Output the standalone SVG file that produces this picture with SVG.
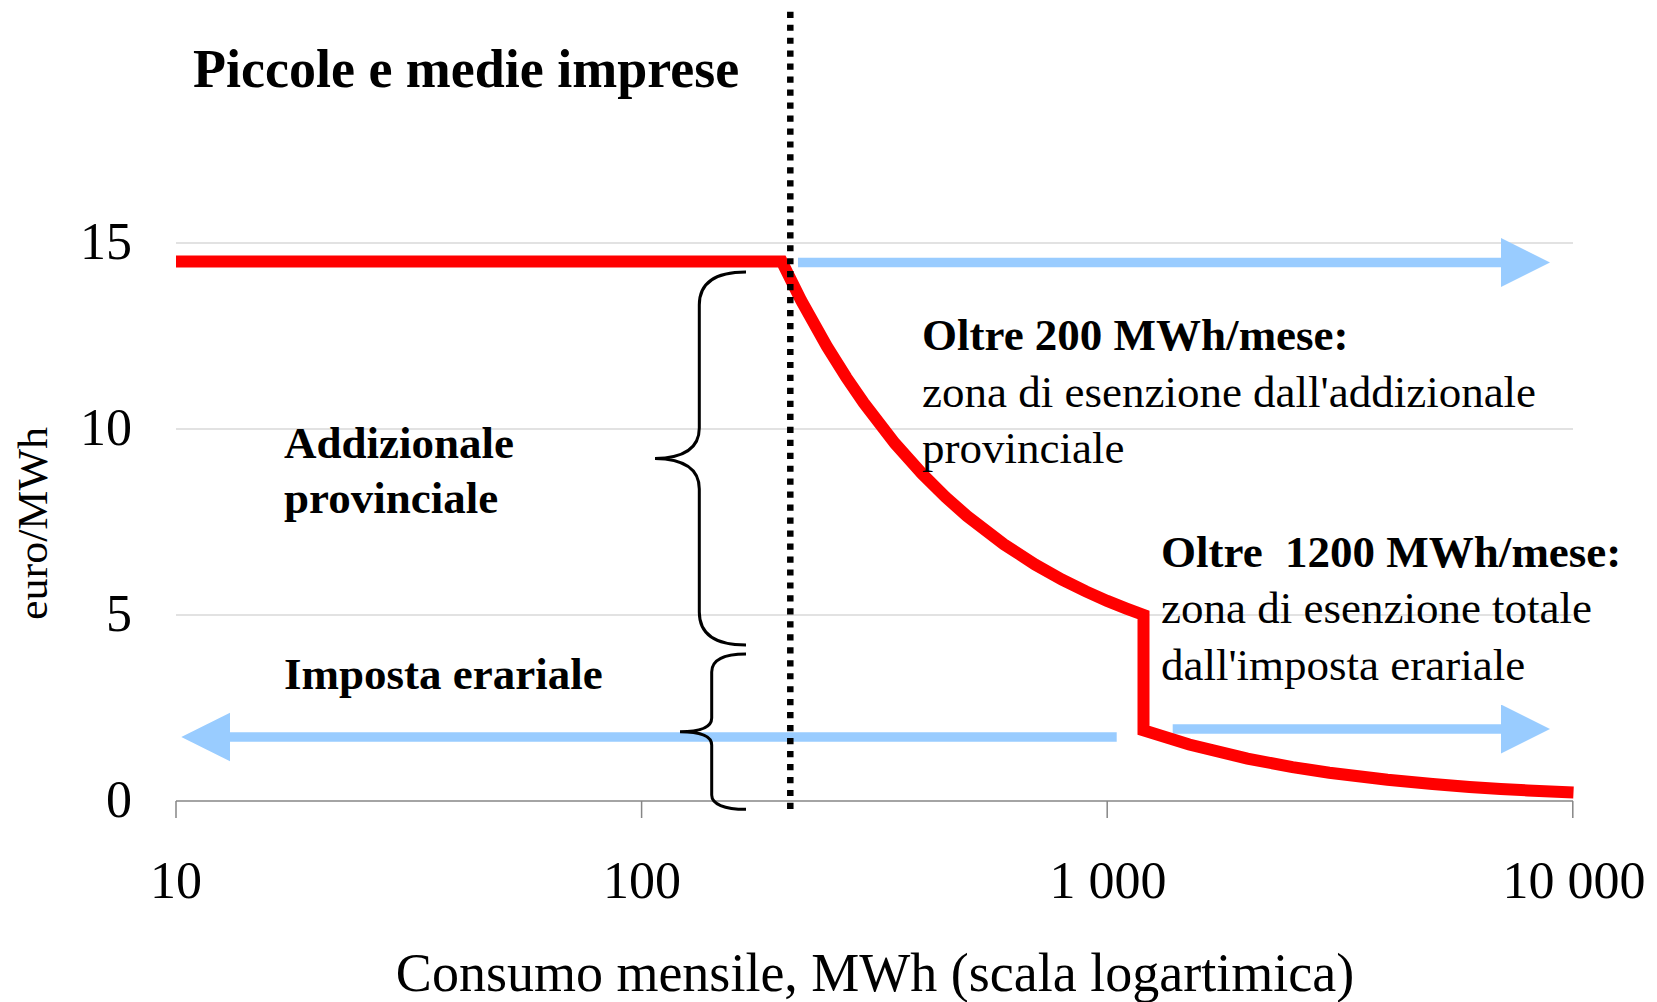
<svg xmlns="http://www.w3.org/2000/svg" width="1657" height="1002" viewBox="0 0 1657 1002">
<style>
.t{font-family:"Liberation Serif","Times New Roman",serif;fill:#000}
.b{font-weight:bold}
.grid{stroke:#d9d9d9;stroke-width:1.5;fill:none}
.axis{stroke:#868686;stroke-width:1.5;fill:none}
.blue{stroke:#99CCFF;stroke-width:9.5;fill:none}
.brace{stroke:#000;stroke-width:3;fill:none;stroke-linecap:butt}
</style>
<defs>
<marker id="ah" markerUnits="userSpaceOnUse" viewBox="0 0 50 50" markerWidth="50" markerHeight="50" refX="1" refY="24.5" orient="auto">
<path d="M0,0 L49,24.5 L0,49 z" fill="#99CCFF"/>
</marker>
</defs>
<rect width="1657" height="1002" fill="#fff"/>
<g id="grid">
<line class="grid" x1="176" y1="243" x2="1573" y2="243"/>
<line class="grid" x1="176" y1="429" x2="1573" y2="429"/>
<line class="grid" x1="176" y1="615" x2="1573" y2="615"/>
</g>
<g id="x-axis">
<line class="axis" x1="176" y1="801" x2="1573" y2="801"/>
<line class="axis" x1="176" y1="801" x2="176" y2="818"/>
<line class="axis" x1="641.6" y1="801" x2="641.6" y2="818"/>
<line class="axis" x1="1107.2" y1="801" x2="1107.2" y2="818"/>
<line class="axis" x1="1572.8" y1="801" x2="1572.8" y2="818"/>
</g>
<g id="tick-labels" class="t" font-size="52">
<text x="132" y="259" text-anchor="end">15</text>
<text x="132" y="445" text-anchor="end">10</text>
<text x="132" y="631" text-anchor="end">5</text>
<text x="132" y="817" text-anchor="end">0</text>
<text x="176" y="898" text-anchor="middle">10</text>
<text x="642" y="898" text-anchor="middle">100</text>
<text x="1108" y="898" text-anchor="middle">1 000</text>
<text x="1574" y="898" text-anchor="middle">10 000</text>
</g>
<g id="axis-titles" class="t">
<text x="875" y="991" font-size="54" text-anchor="middle">Consumo mensile, MWh (scala logartimica)</text>
<text transform="translate(47,523.5) rotate(-90)" font-size="42" text-anchor="middle" textLength="193" lengthAdjust="spacingAndGlyphs">euro/MWh</text>
</g>
<text id="title" class="t b" x="193" y="87" font-size="54">Piccole e medie imprese</text>
<g id="connectors">
<line id="arrow-top" class="blue" x1="798" y1="262.5" x2="1502" y2="262.5" stroke-width="8.5" marker-end="url(#ah)"/>
<line id="arrow-left" class="blue" x1="1116.7" y1="737" x2="229.3" y2="737" marker-end="url(#ah)"/>
<line id="arrow-right" class="blue" x1="1172.7" y1="729" x2="1502" y2="729" marker-end="url(#ah)"/>
<path id="tax-curve" fill="none" stroke="#FF0000" stroke-width="12" stroke-linejoin="miter" d="M176,261.6 L781.8,261.6 L801,300.1 L826.9,346.4 L846.2,377.3 L863.8,403 L894.9,443.3 L921.9,473.6 L945.7,497.2 L967,516 L1003.9,544.3 L1035.1,564.5 L1062.1,579.7 L1085.9,591.4 L1107.2,600.9 L1126.5,608.6 L1143.5,615 L1143.5,730.3 L1189.2,744.5 L1247.4,758.6 L1292.5,767.1 L1329.3,772.7 L1387.5,779.8 L1432.6,784 L1469.5,786.9 L1500.7,788.9 L1527.7,790.4 L1573.5,792.5"/>
<line id="threshold-200" x1="790.3" y1="11.7" x2="790.3" y2="809" stroke="#000" stroke-width="6.5" stroke-dasharray="6.2 6.77"/>
</g>
<g id="brace-addizionale">
<path class="brace" d="M746,272 C716,272 699.3,282 699.3,305 L699.3,428 C699.3,448 684,458 655,458.5 C684,459 699.3,469 699.3,489 L699.3,612 C699.3,635 716,645 746,645"/>
</g>
<g id="brace-erariale">
<path class="brace" d="M746,654 C724,654 711.7,660 711.7,672 L711.7,718 C711.7,727 700,731.7 680,731.7 C700,731.7 711.7,736 711.7,745 L711.7,795 C711.7,804 724,809.3 746,809.3"/>
</g>
<g id="label-addizionale" class="t b" font-size="45">
<text x="284" y="458">Addizionale</text>
<text x="284" y="513">provinciale</text>
</g>
<text id="label-erariale" class="t b" x="284" y="689" font-size="45">Imposta erariale</text>
<g id="note-200" class="t" font-size="45">
<text class="b" x="922" y="350">Oltre 200 MWh/mese:</text>
<text x="922" y="406.7">zona di esenzione dall'addizionale</text>
<text x="922" y="463.3">provinciale</text>
</g>
<g id="note-1200" class="t" font-size="45">
<text class="b" x="1161" y="566.7" xml:space="preserve">Oltre  1200 MWh/mese:</text>
<text x="1161" y="623.3">zona di esenzione totale</text>
<text x="1161" y="680">dall'imposta erariale</text>
</g>
</svg>
